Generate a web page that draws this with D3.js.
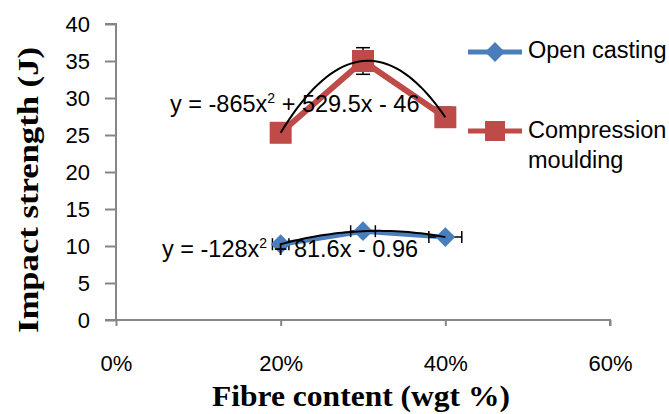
<!DOCTYPE html>
<html>
<head>
<meta charset="utf-8">
<script src="https://cdn.jsdelivr.net/npm/d3@7"></script>
<style>
  body { margin: 0; background: #fff; }
  svg text { font-family: "Liberation Sans", Arial, sans-serif; fill: #000; }
  .ttl { font-family: "Liberation Serif", "Times New Roman", serif; font-weight: bold; }
</style>
</head>
<body>
<svg width="669" height="414"></svg>
<script>
// data
var fibre = [0.2, 0.3, 0.4];
var openCasting = [10.24, 12.0, 11.2];
var openErrX = [0.01, 0.015, 0.02];
var compression = [25.3, 35.0, 27.4];
var compErrY = [1.2, 1.8, 1.35];
var xTicks = [0, 0.2, 0.4, 0.6];
var yTicks = [0, 5, 10, 15, 20, 25, 30, 35, 40];
var seriesNames = ["Open casting", "Compression", "moulding"];
var eqLabels = ["y = -128x", "y = -865x"];
var eqTails = [" + 81.6x - 0.96", " + 529.5x - 46"];

var svg = d3.select("svg");
var x = d3.scaleLinear().domain([0, 0.6]).range([116, 610]);
var y = d3.scaleLinear().domain([0, 40]).range([320, 24]);

var axisCol = "#868686";

// axes
var gx = svg.append("g").attr("transform", "translate(0,320)")
  .call(d3.axisBottom(x).tickValues(xTicks).tickSize(6).tickFormat(d3.format(".0%")));
var gy = svg.append("g").attr("transform", "translate(116,0)")
  .call(d3.axisLeft(y).tickValues(yTicks).tickSize(11).tickPadding(15));
[gx, gy].forEach(function(g){
  g.selectAll("path,line").attr("stroke", axisCol).attr("stroke-width", 2);
  g.select(".domain").attr("d", g === gx ? "M116,0H610V6" : "M-11,24H0V320H-11");
  g.selectAll("text").attr("fill", "#000").style("font-size", "22px");
});
gx.selectAll("text").attr("y", 51).attr("dy", 0);
gy.selectAll("text").attr("dy", "0.35em");

// quadratic least squares fit (trendline)
function quadFit(xs, ys) {
  var n = xs.length, S = [0,0,0,0,0], T = [0,0,0];
  for (var i = 0; i < n; i++) {
    for (var k = 0; k < 5; k++) S[k] += Math.pow(xs[i], k);
    for (var k = 0; k < 3; k++) T[k] += ys[i] * Math.pow(xs[i], k);
  }
  var A = [[S[0],S[1],S[2],T[0]],[S[1],S[2],S[3],T[1]],[S[2],S[3],S[4],T[2]]];
  for (var c = 0; c < 3; c++) {
    for (var r = c + 1; r < 3; r++) {
      var f = A[r][c] / A[c][c];
      for (var k = c; k < 4; k++) A[r][k] -= f * A[c][k];
    }
  }
  var b = [0,0,0];
  for (var r = 2; r >= 0; r--) {
    var s = A[r][3];
    for (var k = r + 1; k < 3; k++) s -= A[r][k] * b[k];
    b[r] = s / A[r][r];
  }
  return function(t){ return b[0] + b[1]*t + b[2]*t*t; };
}

var line = d3.line().x(function(d){ return x(d[0]); }).y(function(d){ return y(d[1]); });
var colors = ["#4a7ebb", "#be4b48"];
var widths = [5, 6];
var allY = [openCasting, compression];

allY.forEach(function(vals, si){
  var pts = fibre.map(function(f, i){ return [f, vals[i]]; });
  svg.append("path").attr("d", line(pts)).attr("fill", "none")
    .attr("stroke", colors[si]).attr("stroke-width", widths[si]).attr("stroke-linejoin", "round");
});

// error bars
var eg = svg.append("g").attr("stroke", "#000").attr("stroke-width", 1.5);
fibre.forEach(function(f, i){
  var x0 = x(f - openErrX[i]), x1 = x(f + openErrX[i]), yy = y(openCasting[i]);
  eg.append("line").attr("x1", x0).attr("x2", x1).attr("y1", yy).attr("y2", yy);
  eg.append("line").attr("x1", x0).attr("x2", x0).attr("y1", yy - 6).attr("y2", yy + 6);
  eg.append("line").attr("x1", x1).attr("x2", x1).attr("y1", yy - 6).attr("y2", yy + 6);
  var xx = x(f), y0 = y(compression[i] - compErrY[i]), y1 = y(compression[i] + compErrY[i]);
  eg.append("line").attr("x1", xx).attr("x2", xx).attr("y1", y0).attr("y2", y1);
  eg.append("line").attr("x1", xx - 7).attr("x2", xx + 7).attr("y1", y0).attr("y2", y0);
  eg.append("line").attr("x1", xx - 7).attr("x2", xx + 7).attr("y1", y1).attr("y2", y1);
});

// markers
var diamond = d3.symbol().type(d3.symbolDiamond2).size(250);
svg.selectAll(".dia").data(fibre).enter().append("path")
  .attr("d", diamond)
  .attr("transform", function(d, i){ return "translate(" + x(d) + "," + y(openCasting[i]) + ")"; })
  .attr("fill", colors[0]);
svg.selectAll(".sq").data(fibre).enter().append("rect")
  .attr("x", function(d){ return x(d) - 11; })
  .attr("y", function(d, i){ return y(compression[i]) - 11; })
  .attr("width", 22).attr("height", 22).attr("fill", colors[1]);

// trendlines
allY.forEach(function(vals){
  var fn = quadFit(fibre, vals);
  var pts = d3.range(0, 41).map(function(k){ var t = 0.2 + k * 0.005; return [t, fn(t)]; });
  svg.append("path").attr("d", line(pts)).attr("fill", "none")
    .attr("stroke", "#000").attr("stroke-width", 2);
});

// equations
var eqPos = [[162, 257], [170, 112]];
eqLabels.forEach(function(lb, i){
  var t = svg.append("text").attr("x", eqPos[i][0]).attr("y", eqPos[i][1]).style("font-size", "23.5px");
  t.append("tspan").text(lb);
  t.append("tspan").text("2").attr("dy", -9).style("font-size", "14px");
  t.append("tspan").text(eqTails[i]).attr("dy", 9);
});

// legend
var lg = svg.append("g");
lg.append("line").attr("x1", 468).attr("x2", 522).attr("y1", 52).attr("y2", 52)
  .attr("stroke", colors[0]).attr("stroke-width", 5);
lg.append("path").attr("d", diamond).attr("transform", "translate(495,52)").attr("fill", colors[0]);
lg.append("line").attr("x1", 468).attr("x2", 522).attr("y1", 131).attr("y2", 131)
  .attr("stroke", colors[1]).attr("stroke-width", 5);
lg.append("rect").attr("x", 485).attr("y", 121).attr("width", 20).attr("height", 20).attr("fill", colors[1]);
var lgY = [58, 138, 168];
seriesNames.forEach(function(s, i){
  lg.append("text").attr("x", 528).attr("y", lgY[i]).style("font-size", "23.5px").text(s);
});

// axis titles
svg.append("text").attr("class", "ttl").attr("x", 361).attr("y", 406)
  .attr("text-anchor", "middle").style("font-size", "30px")
  .attr("textLength", 298).attr("lengthAdjust", "spacingAndGlyphs").text("Fibre content (wgt %)");
svg.append("text").attr("class", "ttl")
  .attr("transform", "translate(38,190) rotate(-90)")
  .attr("text-anchor", "middle").style("font-size", "30px")
  .attr("textLength", 286).attr("lengthAdjust", "spacingAndGlyphs").text("Impact strength (J)");
</script>
</body>
</html>
